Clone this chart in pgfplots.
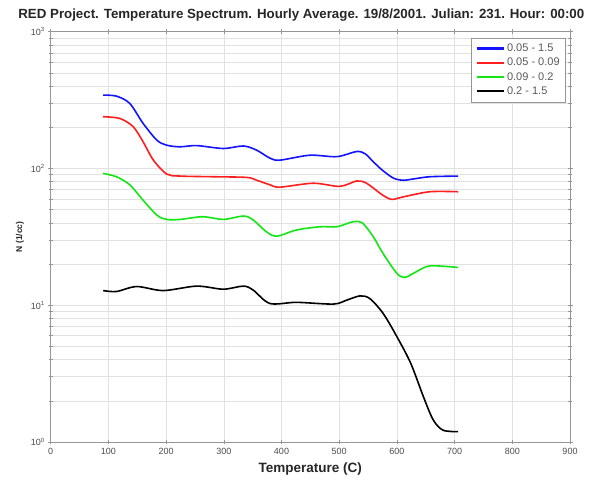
\documentclass[border=0pt]{standalone}
\usepackage{pgfplots}
\pgfplotsset{compat=1.18}
\usepackage{fontspec}
\setmainfont{Liberation Sans}
\definecolor{gridgray}{RGB}{225,225,225}
\definecolor{axgray}{RGB}{150,150,150}
\definecolor{cblue}{RGB}{20,20,255}
\definecolor{cred}{RGB}{255,30,30}
\definecolor{cgreen}{RGB}{20,230,20}
\begin{document}
\begin{tikzpicture}
\begin{axis}[
  at={(0,0)}, anchor=south west,
  scale only axis, width=519.3pt, height=410.3pt,
  xmin=0, xmax=900, ymode=log, ymin=1, ymax=1000,
  xtick={0,100,...,900},
  ytick={1,10,100,1000},
  yticklabels={10\textsuperscript{0},10\textsuperscript{1},10\textsuperscript{2},10\textsuperscript{3}},
  /pgf/number format/assume math mode=true,
  /pgf/number format/1000 sep={},
  tick label style={font=\fontsize{9}{10}\selectfont, text=black!70},
  grid=both,
  major grid style={gridgray, line width=0.6pt},
  minor grid style={gridgray, line width=0.6pt},
  axis line style={axgray, line width=0.8pt},
  tick style={axgray, line width=0.6pt},
  tick align=center,
  major tick length=5pt, minor tick length=4pt,
  xtick pos=both, ytick pos=both,
  title={\bfseries RED Project. Temperature Spectrum. Hourly Average. 19/8/2001. Julian: 231. Hour: 00:00},
  title style={font=\fontsize{13.3}{15}\selectfont, yshift=1pt, xshift=-9pt, text=black!85},
  xlabel={\bfseries Temperature (C)},
  ylabel={\bfseries N (1/cc)},
  xlabel style={font=\fontsize{13.5}{15}\selectfont, yshift=-1pt, text=black!85},
  ylabel style={font=\fontsize{8.5}{10}\selectfont, yshift=0pt, text=black!85},
  legend style={at={(0.992,0.985)}, anchor=north east, draw=axgray, fill=white,
    font=\fontsize{11}{13}\selectfont, row sep=1pt, inner sep=4pt, text=black!65},
  legend cell align=left,
  legend image post style={line width=2.4pt},
  legend image code/.code={\draw[#1] (0cm,0cm) -- (0.95cm,0cm);},
  every axis plot/.append style={line width=1.6pt, smooth, tension=0.5},
]
\addplot[cblue] coordinates {
(91,344) (114,338) (137,299) (160,214) (184,161) (201,148) (224,144) (253,147) (299,140) (334,146) (357,136) (380,119) (397,115) (449,125) (496,122) (530,133) (545,128) (559,112) (575,97) (594,85) (611,82) (630,84) (657,87) (706,88)};
\addlegendentry{0.05 - 1.5}
\addplot[cred] coordinates {
(91,239) (120,232) (143,202) (160,157) (178,115) (201,91) (224,88) (282,87) (340,86) (357,82) (380,76) (397,73) (455,78) (501,74) (530,81) (545,79) (559,72) (575,64) (591,59.4) (611,62) (657,67.6) (706,67.6)};
\addlegendentry{0.05 - 0.09}
\addplot[cgreen] coordinates {
(91,92) (114,87) (137,76) (160,58.7) (184,45.6) (201,42.4) (224,42.4) (264,44.4) (299,42.4) (334,44.9) (351,42) (374,34.4) (392,32) (426,35.5) (467,37.5) (496,37.5) (524,40.8) (540,40) (559,31.7) (576,23.9) (600,17.1) (614,16) (634,17.6) (657,19.4) (706,18.9)};
\addlegendentry{0.09 - 0.2}
\addplot[black] coordinates {
(91,12.8) (114,12.6) (149,13.7) (195,12.8) (253,13.8) (299,13.1) (334,13.8) (351,12.9) (380,10.3) (426,10.5) (490,10.2) (513,10.9) (536,11.7) (553,11.2) (576,8.73) (600,5.89) (624,3.76) (646,2.14) (663,1.45) (680,1.22) (706,1.19)};
\addlegendentry{0.2 - 1.5}
\end{axis}
\path[use as bounding box] (-50.7pt,-37pt) rectangle (550.3pt,442pt);
\end{tikzpicture}
\end{document}
